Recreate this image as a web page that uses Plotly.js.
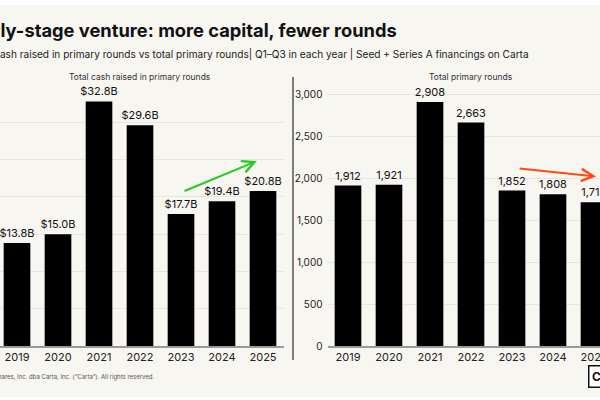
<!DOCTYPE html>
<html>
<head>
<meta charset="utf-8">
<script src="https://cdn.plot.ly/plotly-3.0.1.min.js"></script>
<style>
  html, body { margin: 0; padding: 0; background: #ffffff; width: 600px; height: 400px; overflow: hidden; position: relative; }
  #chart { position: absolute; left: -90px; top: 5px; width: 720px; height: 392px; }
</style>
</head>
<body>
<div id="chart"></div>
<script>
// ---- data ----
const years = ['2019', '2020', '2021', '2022', '2023', '2024', '2025'];
const cashRaisedB = [13.8, 15.0, 32.8, 29.6, 17.7, 19.4, 20.8];
const primaryRounds = [1912, 1921, 2908, 2663, 1852, 1808, 1714];

const titleText = 'Early-stage venture: more capital, fewer rounds';
const subtitleText = 'Total cash raised in primary rounds vs total primary rounds| Q1–Q3 in each year | Seed + Series A financings on Carta';
const leftPanelTitle = 'Total cash raised in primary rounds';
const rightPanelTitle = 'Total primary rounds';
const footerText = '© 2025 eShares, Inc. dba Carta, Inc. (“Carta”). All rights reserved.';

const FONT = 'Inter, "Noto Sans", sans-serif';
const BG = '#f8f6f1';
const GRID = '#e9e6df';

const traces = [
  {
    type: 'bar', x: years, y: cashRaisedB, xaxis: 'x', yaxis: 'y',
    marker: { color: '#000000' },
    texttemplate: '$%{y:.1f}B', textposition: 'outside', cliponaxis: false,
    constraintext: 'none',
    textfont: { family: FONT, size: 11, color: '#111' },
    hoverinfo: 'skip'
  },
  {
    type: 'bar', x: years, y: primaryRounds, xaxis: 'x2', yaxis: 'y2',
    marker: { color: '#000000' },
    texttemplate: '%{y:,}', textposition: 'outside', cliponaxis: false,
    constraintext: 'none',
    textfont: { family: FONT, size: 11, color: '#111' },
    hoverinfo: 'skip'
  }
];

const W = 720, H = 392;
const px = v => v / W;             // div x -> paper x
const py = v => (H - v) / H;       // div y -> paper y

const axisCommon = {
  type: 'category',
  showline: true, linecolor: '#9a9a9a', linewidth: 2,
  ticks: '', tickfont: { family: FONT, size: 11, color: '#222' },
  showgrid: false, zeroline: false, fixedrange: true
};
const yCommon = {
  showgrid: true, gridcolor: GRID, gridwidth: 1, zeroline: false,
  showline: false, ticks: '', tickfont: { family: FONT, size: 10, color: '#222' },
  fixedrange: true
};

const layout = {
  width: W, height: H,
  paper_bgcolor: BG, plot_bgcolor: BG,
  margin: { l: 0, r: 0, t: 0, b: 0 },
  showlegend: false,
  bargap: 0.35,
  font: { family: FONT, color: '#111' },
  xaxis: Object.assign({}, axisCommon, { domain: [px(86.5), px(373.5)], anchor: 'y' }),
  yaxis: Object.assign({}, yCommon, { domain: [py(341), py(80)], range: [0, 35], dtick: 5, tickprefix: '$', ticksuffix: 'B', anchor: 'x', ticklabelstandoff: 14 }),
  xaxis2: Object.assign({}, axisCommon, { domain: [px(417.5), px(704.5)], anchor: 'y2' }),
  yaxis2: Object.assign({}, yCommon, { domain: [py(341), py(80)], range: [0, 3110], dtick: 500, tickformat: ',', anchor: 'x2', ticklabelstandoff: 4 }),
  shapes: [
    { type: 'line', xref: 'paper', yref: 'paper', x0: px(383), x1: px(383), y0: py(72), y1: py(355),
      line: { color: '#555', width: 1.5 } }
  ],
  annotations: [
    { text: '<b>' + titleText + '</b>', xref: 'paper', yref: 'paper', x: px(489), y: py(25),
      xanchor: 'right', yanchor: 'middle', showarrow: false,
      font: { family: FONT, size: 18.3, color: '#111', weight: 600 } },
    { text: subtitleText, xref: 'paper', yref: 'paper', x: px(621), y: py(50),
      xanchor: 'right', yanchor: 'middle', showarrow: false,
      font: { family: FONT, size: 10.1, color: '#222' } },
    { text: leftPanelTitle, xref: 'x domain', yref: 'paper', x: 0.5, y: py(72),
      xanchor: 'center', yanchor: 'middle', showarrow: false,
      font: { family: FONT, size: 8.5, color: '#333' } },
    { text: rightPanelTitle, xref: 'x2 domain', yref: 'paper', x: 0.5, y: py(72),
      xanchor: 'center', yanchor: 'middle', showarrow: false,
      font: { family: FONT, size: 8.5, color: '#333' } },
    { text: footerText, xref: 'paper', yref: 'paper', x: px(247), y: py(372),
      xanchor: 'right', yanchor: 'middle', showarrow: false,
      font: { family: FONT, size: 6.0, color: '#555' } },
    { text: '<b>Carta</b>', xref: 'paper', yref: 'paper', x: px(678), y: py(371),
      xanchor: 'left', yanchor: 'middle', showarrow: false,
      bordercolor: '#111', borderwidth: 1.5, borderpad: 2.5, bgcolor: '#ffffff',
      font: { family: FONT, size: 12, color: '#111' } },
    // green trend arrow (left panel)
    { xref: 'x', yref: 'y', axref: 'x', ayref: 'y',
      x: 5.85, y: 24.8, ax: 4.05, ay: 20.7, text: '', showarrow: true,
      arrowhead: 5, arrowsize: 1.2, arrowwidth: 2, arrowcolor: '#22cc22' },
    // orange-red trend arrow (right panel)
    { xref: 'x2', yref: 'y2', axref: 'x2', ayref: 'y2',
      x: 6.05, y: 2020, ax: 4.15, ay: 2116, text: '', showarrow: true,
      arrowhead: 5, arrowsize: 1.2, arrowwidth: 2, arrowcolor: '#ff4a14' }
  ]
};

Plotly.newPlot('chart', traces, layout, { displayModeBar: false, staticPlot: true });
</script>
</body>
</html>
